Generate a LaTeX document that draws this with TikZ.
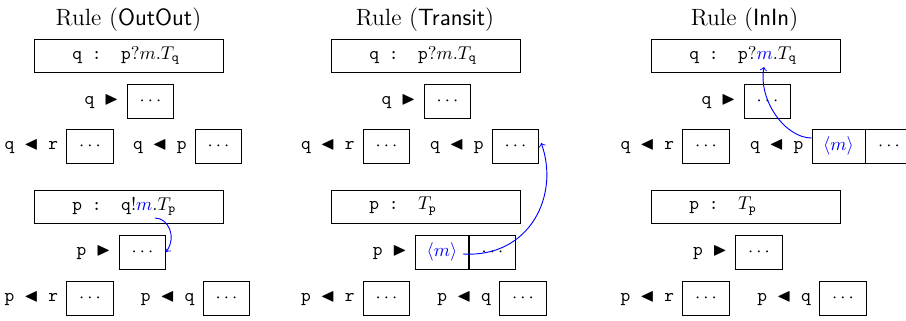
\documentclass[tikz,border=0pt]{standalone}
\usepackage{amssymb}
\begin{document}
\begin{tikzpicture}[x=0.54pt,y=-0.54pt,
  big/.style={draw, line width=0.45pt, minimum width=102pt, minimum height=17.8pt, inner xsep=0pt, inner ysep=0pt},
  cell/.style={draw, line width=0.45pt, minimum width=25.1pt, minimum height=18.4pt, inner xsep=6pt, inner ysep=0pt},
  lab/.style={anchor=east, inner sep=0pt, xshift=-4.3pt},
  ttl/.style={anchor=base, font=\fontsize{12.7}{15}\selectfont, inner sep=0pt},
  msg/.style={draw=blue, line width=0.5pt, ->},
]
\useasboundingbox (0,0) rectangle (906,321);
\newcommand{\bx}[1]{\makebox[60.5pt][l]{#1}}
% ---------------- Panel 1: OutOut
\node[ttl] (h1) at (128.5,25) {Rule (\textsf{OutOut})};
\node[big] (t1) at (128.5,55.5) {\bx{\texttt{q~:~~p}$?m.T_{\mathtt{q}}$}};
\node[cell] (q1) at (150.5,101) {$\cdots$};
\node[lab] (q1l) at (q1.west) {\texttt{q \(\blacktriangleright\)}};
\node[cell] (r1a) at (90,146) {$\cdots$};
\node[lab] (r1al) at (r1a.west) {\texttt{q \(\blacktriangleleft\) r}};
\node[cell] (r1b) at (218.5,146) {$\cdots$};
\node[lab] (r1bl) at (r1b.west) {\texttt{q \(\blacktriangleleft\) p}};
\node[big] (b1) at (128.5,206.5) {\bx{\texttt{p~:~~q}$!{\color{blue}m}.T_{\mathtt{p}}$}};
\node[cell] (p1) at (142.5,252) {$\cdots$};
\node[lab] (p1l) at (p1.west) {\texttt{p \(\blacktriangleright\)}};
\node[cell] (s1a) at (90,298) {$\cdots$};
\node[lab] (s1al) at (s1a.west) {\texttt{p \(\blacktriangleleft\) r}};
\node[cell] (s1b) at (226.5,298) {$\cdots$};
\node[lab] (s1bl) at (s1b.west) {\texttt{p \(\blacktriangleleft\) q}};
\coordinate (m1) at (155,218);
\draw[msg] (m1) .. controls (168,218) and (177,236) .. (p1.east);
% ---------------- Panel 2: Transit
\node[ttl] (h2) at (425,25) {Rule (\textsf{Transit})};
\node[big] (t2) at (425.5,55.5) {\bx{\texttt{q~:~~p}$?m.T_{\mathtt{q}}$}};
\node[cell] (q2) at (447.5,101) {$\cdots$};
\node[lab] (q2l) at (q2.west) {\texttt{q \(\blacktriangleright\)}};
\node[cell] (r2a) at (386.5,146) {$\cdots$};
\node[lab] (r2al) at (r2a.west) {\texttt{q \(\blacktriangleleft\) r}};
\node[cell] (r2b) at (515.5,146) {$\cdots$};
\node[lab] (r2bl) at (r2b.west) {\texttt{q \(\blacktriangleleft\) p}};
\node[big] (b2) at (425.5,206.5) {\bx{\texttt{p~:~~}$T_{\mathtt{p}}$}};
\node[cell, text=blue] (p2m) at (442,252) {$\langle m\rangle$};
\node[cell, anchor=west] (p2d) at (p2m.east) {$\cdots$};
\node[lab] (p2l) at (p2m.west) {\texttt{p \(\blacktriangleright\)}};
\node[cell] (s2a) at (386.5,298) {$\cdots$};
\node[lab] (s2al) at (s2a.west) {\texttt{p \(\blacktriangleleft\) r}};
\node[cell] (s2b) at (523,298) {$\cdots$};
\node[lab] (s2bl) at (s2b.west) {\texttt{p \(\blacktriangleleft\) q}};
\coordinate (a2) at (463,254);
\draw[msg] (a2) .. controls (530,258) and (560,195) .. ([shift={(2,-3)}]r2b.east);
% ---------------- Panel 3: InIn
\node[ttl] (h3) at (744.5,25) {Rule (\textsf{InIn})};
\node[big] (t3) at (745.5,55.5) {\bx{\texttt{q~:~~p}$?{\color{blue}m}.T_{\mathtt{q}}$}};
\node[cell] (q3) at (767.5,101) {$\cdots$};
\node[lab] (q3l) at (q3.west) {\texttt{q \(\blacktriangleright\)}};
\node[cell] (r3a) at (706,146) {$\cdots$};
\node[lab] (r3al) at (r3a.west) {\texttt{q \(\blacktriangleleft\) r}};
\node[cell, text=blue] (r3m) at (838.5,146) {$\langle m\rangle$};
\node[cell, anchor=west] (r3d) at (r3m.east) {$\cdots$};
\node[lab] (r3bl) at (r3m.west) {\texttt{q \(\blacktriangleleft\) p}};
\node[big] (b3) at (745.5,206.5) {\bx{\texttt{p~:~~}$T_{\mathtt{p}}$}};
\node[cell] (p3) at (759,252) {$\cdots$};
\node[lab] (p3l) at (p3.west) {\texttt{p \(\blacktriangleright\)}};
\node[cell] (s3a) at (706,298) {$\cdots$};
\node[lab] (s3al) at (s3a.west) {\texttt{p \(\blacktriangleleft\) r}};
\node[cell] (s3b) at (843,298) {$\cdots$};
\node[lab] (s3bl) at (s3b.west) {\texttt{p \(\blacktriangleleft\) q}};
\coordinate (m3) at (764,67);
\draw[msg] ([shift={(0,-8)}]r3m.west) .. controls (785,138) and (758,100) .. (m3);
\end{tikzpicture}
\end{document}
